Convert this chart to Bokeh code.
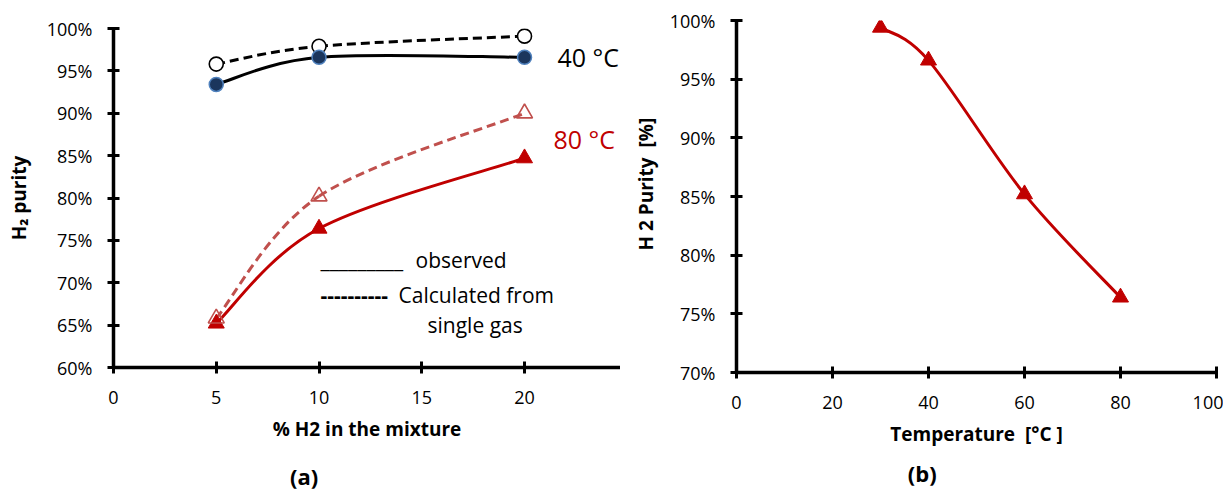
import numpy as np
from bokeh.plotting import figure
from bokeh.layouts import row
from bokeh.models import Range1d, FixedTicker, PrintfTickFormatter, Label, LinearAxis
from bokeh.embed import file_html
from bokeh.resources import INLINE

# ---------------- data: panel (a) ----------------
h2_in_mixture = [5, 10, 20]
obs_40C = [93.4, 96.6, 96.6]
calc_40C = [95.8, 97.9, 99.1]
obs_80C = [65.2, 76.4, 84.7]
calc_80C = [65.8, 80.2, 90.0]
a_xticks = [0, 5, 10, 15, 20, 25]
a_yticks = [60, 65, 70, 75, 80, 85, 90, 95, 100]

# ---------------- data: panel (b) ----------------
temperature = [30, 40, 60, 80]
purity_b = [99.4, 96.6, 85.2, 76.4]
b_xticks = [0, 20, 40, 60, 80, 100]
b_yticks = [70, 75, 80, 85, 90, 95, 100]

FONT = "Open Sans"
RED = "#C00000"
RED_LIGHT = "#C0504D"
H = 497
NBSP = "\u00a0"


def smooth_segments(xs, ys):
    """Bezier segments (Catmull-Rom style, like a spreadsheet 'smoothed line')."""
    xs = np.asarray(xs, float)
    ys = np.asarray(ys, float)
    n = len(xs)
    px = np.concatenate([[xs[0]], xs, [xs[-1]]])
    py = np.concatenate([[ys[0]], ys, [ys[-1]]])
    return dict(
        x0=xs[:-1], y0=ys[:-1], x1=xs[1:], y1=ys[1:],
        cx0=px[1:n] + (px[2:n + 1] - px[0:n - 1]) / 6.0,
        cy0=py[1:n] + (py[2:n + 1] - py[0:n - 1]) / 6.0,
        cx1=px[2:n + 1] - (px[3:n + 2] - px[1:n]) / 6.0,
        cy1=py[2:n + 1] - (py[3:n + 2] - py[1:n]) / 6.0,
    )


def style_axes(p, xticks, yticks):
    if "frame_align" in p.properties():
        p.frame_align = False
    p.outline_line_color = None
    p.xgrid.visible = False
    p.ygrid.visible = False
    p.background_fill_color = "white"
    p.border_fill_color = "white"
    for ax in (p.xaxis[0], p.yaxis[0]):
        ax.axis_line_width = 3.5
        ax.axis_line_color = "black"
        ax.major_tick_line_width = 3
        ax.major_tick_line_color = "black"
        ax.major_tick_in = 6
        ax.major_tick_out = 6
        ax.minor_tick_line_color = None
        ax.major_label_text_font = FONT
        ax.major_label_text_font_size = "18px"
        ax.major_label_text_color = "black"
        ax.axis_label_text_font = FONT
        ax.axis_label_text_font_size = "19px"
        ax.axis_label_text_font_style = "bold"
        ax.axis_label_text_color = "black"
    p.xaxis[0].ticker = FixedTicker(ticks=xticks)
    p.yaxis[0].ticker = FixedTicker(ticks=yticks)
    p.yaxis[0].formatter = PrintfTickFormatter(format="%d%%")
    p.yaxis[0].major_label_standoff = 15
    p.xaxis[0].major_label_standoff = 17
    p.xaxis[0].axis_label_standoff = 9


def add_text(p, x, y, text, size, color="black", bold=False, align="left",
             baseline="alphabetic"):
    p.add_layout(Label(x=x, y=y, text=text, text_font=FONT,
                       text_font_size=size, text_color=color,
                       text_font_style="bold" if bold else "normal",
                       text_align=align, text_baseline=baseline))


def panel_tag(p, text, pad, standoff):
    """Panel caption drawn as the label of an extra, invisible bottom axis."""
    tag = LinearAxis(ticker=FixedTicker(ticks=[]), axis_line_color=None,
                     major_tick_line_color=None, minor_tick_line_color=None,
                     major_tick_in=0, major_tick_out=0, minor_tick_in=0, minor_tick_out=0,
                     major_label_standoff=0,
                     axis_label=text + NBSP * pad, axis_label_standoff=standoff,
                     axis_label_text_font=FONT, axis_label_text_font_size="22px",
                     axis_label_text_font_style="bold", axis_label_text_color="black")
    p.add_layout(tag, "below")


# ================= panel (a) =================
pa = figure(width=620, height=H, x_range=Range1d(0, 24.67), y_range=Range1d(60, 100),
            output_backend="svg", toolbar_location=None,
            min_border_left=113, min_border_right=0, min_border_top=28,
            min_border_bottom=H - 367)
style_axes(pa, a_xticks, a_yticks)
pa.yaxis[0].axis_label = "H\u2082 purity"
pa.yaxis[0].axis_label_standoff = 12
pa.xaxis[0].axis_label = "% H2 in the mixture"

# 40 C calculated (dashed black, open circles)
pa.bezier(**smooth_segments(h2_in_mixture, calc_40C), line_color="black",
          line_width=3, line_dash="9 5")
pa.scatter(h2_in_mixture, calc_40C, marker="circle", size=14, fill_color="white",
           line_color="black", line_width=1.6)
# 40 C observed (solid black, dark filled circles)
pa.bezier(**smooth_segments(h2_in_mixture, obs_40C), line_color="black", line_width=3)
pa.scatter(h2_in_mixture, obs_40C, marker="circle", size=14, fill_color="#1B365D",
           line_color="#4F81BD", line_width=1.5)
# 80 C calculated (dashed light red, open triangles)
pa.bezier(**smooth_segments(h2_in_mixture, calc_80C), line_color=RED_LIGHT,
          line_width=3, line_dash="9 5")
# 80 C observed (solid red, filled triangles)
pa.bezier(**smooth_segments(h2_in_mixture, obs_80C), line_color=RED, line_width=3)
pa.scatter(h2_in_mixture, obs_80C, marker="triangle", size=16, fill_color=RED,
           line_color=RED, line_width=1)
pa.scatter(h2_in_mixture, calc_80C, marker="triangle", size=16, fill_color="white",
           fill_alpha=0.0, line_color=RED_LIGHT, line_width=1.6)

add_text(pa, 21.6, 96.58, "40 \u00b0C", "25px", baseline="middle")
add_text(pa, 21.41, 87.02, "80 \u00b0C", "25px", color=RED, baseline="middle")
add_text(pa, 10.07, 72.74, "_________", "21px")
add_text(pa, 14.70, 72.74, "observed", "21px")
add_text(pa, 10.07, 68.50, "----------", "21px", bold=True)
add_text(pa, 13.87, 68.50, "Calculated from", "21px")
add_text(pa, 15.28, 64.96, "single gas", "21px")
panel_tag(pa, "(a)", 22, 16)

# ================= panel (b) =================
pb = figure(width=603, height=H, x_range=Range1d(0, 100), y_range=Range1d(70, 100),
            output_backend="svg", toolbar_location=None,
            min_border_left=116, min_border_right=7, min_border_top=20,
            min_border_bottom=H - 372)
style_axes(pb, b_xticks, b_yticks)
pb.xaxis[0].axis_label = "Temperature" + NBSP + NBSP + "[\u00b0C ]"
pb.xaxis[0].axis_label_standoff = 9
pb.yaxis[0].axis_label = NBSP * 5 + "H 2 Purity" + NBSP + NBSP + "[%]"
pb.yaxis[0].axis_label_standoff = 8

pb.bezier(**smooth_segments(temperature, purity_b), line_color=RED, line_width=3)
pb.scatter(temperature, purity_b, marker="triangle", size=16, fill_color=RED,
           line_color=RED, line_width=1)
panel_tag(pb, "(b)", 19, 8)

layout = row(pa, pb)
open("out.html", "w").write(file_html(layout, INLINE))
